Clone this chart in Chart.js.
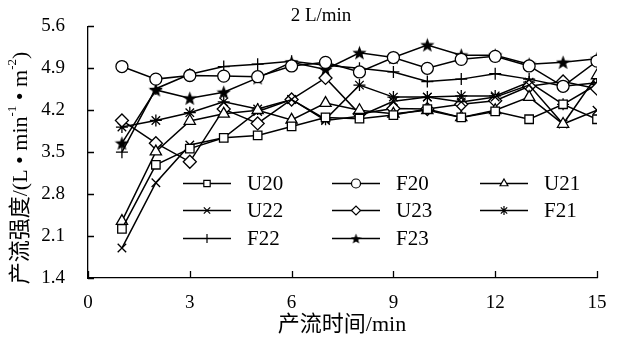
<!DOCTYPE html>
<html lang="zh">
<head>
<meta charset="UTF-8">
<title>产流强度 2 L/min</title>
<script src="https://cdn.jsdelivr.net/npm/chart.js"></script>
<style>
  body { margin: 0; background: #fff; }
</style>
</head>
<body>
<canvas id="flowChart" width="624" height="340"></canvas>
<script>
// time steps (min)
const minutes = [1, 2, 3, 4, 5, 6, 7, 8, 9, 10, 11, 12, 13, 14, 15];

// runoff intensity, L/(min*m2)
const u20 = [2.22, 3.29, 3.56, 3.74, 3.78, 3.93, 4.08, 4.06, 4.12, 4.22, 4.08, 4.18, 4.05, 4.30, 4.05];
const f20 = [4.93, 4.72, 4.78, 4.77, 4.76, 4.94, 5.00, 4.84, 5.08, 4.90, 5.05, 5.10, 4.94, 4.60, 5.02];
const u21 = [2.35, 3.51, 4.02, 4.14, 4.20, 4.04, 4.32, 4.20, 4.14, 4.20, 4.08, 4.20, 4.42, 3.97, 4.78];
const u22 = [1.90, 2.99, 3.62, 3.74, 4.18, 4.38, 4.03, 4.10, 4.35, 4.42, 4.34, 4.42, 4.62, 3.97, 4.20];
const u23 = [4.03, 3.65, 3.34, 4.22, 3.98, 4.38, 4.74, 4.14, 4.23, 4.22, 4.30, 4.36, 4.60, 4.68, 4.56];
const f21 = [3.92, 4.03, 4.16, 4.34, 4.22, 4.38, 4.05, 4.62, 4.42, 4.42, 4.44, 4.44, 4.67, 4.30, 4.63];
const f22 = [3.50, 4.56, 4.80, 4.93, 4.97, 5.02, 4.95, 4.90, 4.84, 4.68, 4.72, 4.81, 4.72, 4.60, 4.66];
const f23 = [3.65, 4.54, 4.40, 4.50, 4.74, 5.00, 4.88, 5.16, 5.08, 5.29, 5.12, 5.12, 4.97, 5.00, 5.06];

// axis ticks
const xTicks = [0, 3, 6, 9, 12, 15];
const yTicks = [1.4, 2.1, 2.8, 3.5, 4.2, 4.9, 5.6];

const serif = '"Liberation Serif", "Noto Sans CJK SC", serif';

// filled five-point star marker (Chart.js has no such point style)
function makeStar(size) {
    const c = document.createElement('canvas');
    c.width = size; c.height = size;
    const g = c.getContext('2d');
    const cx = size / 2, cy = size / 2 + 0.6, R = size / 2, r = R * 0.42;
    g.beginPath();
    for (let i = 0; i < 10; i++) {
        const rad = (i % 2 === 0) ? R : r;
        const a = -Math.PI / 2 + i * Math.PI / 5;
        g.lineTo(cx + rad * Math.cos(a), cy + rad * Math.sin(a));
    }
    g.closePath();
    g.fillStyle = '#000';
    g.fill();
    return c;
}
const starBig = makeStar(15);
const starSmall = makeStar(11);

function series(label, values, style, extra) {
    return Object.assign({
        label: label,
        data: minutes.map((m, i) => ({ x: m, y: values[i] })),
        borderColor: '#000',
        borderWidth: 1.5,
        pointStyle: style,
        pointRadius: 5,
        pointBorderWidth: 1.3,
        pointBackgroundColor: '#fff',
        pointBorderColor: '#000',
        tension: 0
    }, extra || {});
}

const datasets = [
    series('U20', u20, 'rect', { pointRadius: 6 }),
    series('F20', f20, 'circle', { pointRadius: 6 }),
    series('U21', u21, 'triangle', { pointRadius: 6.5 }),
    series('U22', u22, 'crossRot', { pointRadius: 6 }),
    series('U23', u23, 'rectRot', { pointRadius: 6.5 }),
    series('F21', f21, 'star', { pointRadius: 6 }),
    series('F22', f22, 'cross', { pointRadius: 6 }),
    series('F23', f23, starBig)
];

// inward tick marks, titles and the in-plot legend
const decorPlugin = {
    id: 'decor',
    afterDraw(chart) {
        const ctx = chart.ctx;
        const area = chart.chartArea;
        const xs = chart.scales.x, ys = chart.scales.y;
        ctx.save();
        ctx.strokeStyle = '#000';
        ctx.lineWidth = 1.3;
        ctx.beginPath();
        yTicks.forEach(v => {
            const py = Math.round(ys.getPixelForValue(v)) + 0.5;
            ctx.moveTo(area.left, py);
            ctx.lineTo(area.left + 6, py);
        });
        xTicks.forEach(v => {
            const px = Math.round(xs.getPixelForValue(v)) + 0.5;
            ctx.moveTo(px, area.bottom);
            ctx.lineTo(px, area.bottom - 7);
        });
        ctx.stroke();

        ctx.fillStyle = '#000';
        // plot title
        ctx.font = '19px ' + serif;
        ctx.textAlign = 'center';
        ctx.textBaseline = 'middle';
        ctx.fillText('2 L/min', 321, 16);

        // x title
        ctx.font = '22px ' + serif;
        ctx.fillText('产流时间/min', 342, 325);

        // y title, rotated, with superscripts
        const parts = [
            ['产流强度/(L • min', 22, 0],
            ['-1', 13, -8],
            [' • m', 22, 0],
            ['-2', 13, -8],
            [')', 22, 0]
        ];
        let total = 0;
        parts.forEach(p => { ctx.font = p[1] + 'px ' + serif; total += ctx.measureText(p[0]).width; });
        ctx.translate(21, 168);
        ctx.rotate(-Math.PI / 2);
        ctx.textAlign = 'left';
        ctx.textBaseline = 'middle';
        let cx = -total / 2;
        parts.forEach(p => {
            ctx.font = p[1] + 'px ' + serif;
            ctx.fillText(p[0], cx, p[2]);
            cx += ctx.measureText(p[0]).width;
        });
        ctx.setTransform(1, 0, 0, 1, 0, 0);

        // legend: 3 columns x 3 rows inside the plot
        const colX = [183, 332, 480];
        const rowY = [183, 210, 238];
        ctx.font = '21px ' + serif;
        ctx.textAlign = 'left';
        ctx.textBaseline = 'middle';
        chart.data.datasets.forEach((ds, i) => {
            const x0 = colX[i % 3], y = rowY[Math.floor(i / 3)] + 0.5;
            ctx.lineWidth = 1.5;
            ctx.strokeStyle = '#000';
            ctx.beginPath();
            ctx.moveTo(x0, y);
            ctx.lineTo(x0 + 48, y);
            ctx.stroke();
            ctx.fillStyle = '#fff';
            ctx.lineWidth = 1.2;
            const style = ds.pointStyle === starBig ? starSmall : ds.pointStyle;
            Chart.helpers.drawPoint(ctx, { pointStyle: style, radius: 4.5, rotation: 0, borderWidth: 1.2 }, x0 + 24, y);
            ctx.fillStyle = '#000';
            ctx.fillText(ds.label, x0 + 64, y + 1);
        });
        ctx.restore();
    }
};

new Chart(document.getElementById('flowChart'), {
    type: 'line',
    data: { datasets: datasets },
    options: {
        responsive: false,
        animation: false,
        devicePixelRatio: 1,
        layout: { padding: { top: 14, right: 27, left: 0, bottom: 0 } },
        plugins: { legend: { display: false }, tooltip: { enabled: false } },
        scales: {
            x: {
                type: 'linear',
                min: 0,
                max: 15,
                afterBuildTicks: s => { s.ticks = xTicks.map(v => ({ value: v })); },
                afterFit: s => { s.height = 62; },
                grid: { display: false },
                border: { display: true, color: '#000', width: 1.3 },
                ticks: { color: '#000', padding: 6, maxRotation: 0, font: { family: serif, size: 19 } }
            },
            y: {
                type: 'linear',
                min: 1.4,
                max: 5.6,
                afterBuildTicks: s => { s.ticks = yTicks.map(v => ({ value: v })); },
                afterFit: s => { s.width = 88; },
                grid: { display: false },
                border: { display: true, color: '#000', width: 1.3 },
                ticks: { color: '#000', padding: 15, font: { family: serif, size: 19 },
                         callback: v => v.toFixed(1) }
            }
        }
    },
    plugins: [decorPlugin]
});
</script>
</body>
</html>
